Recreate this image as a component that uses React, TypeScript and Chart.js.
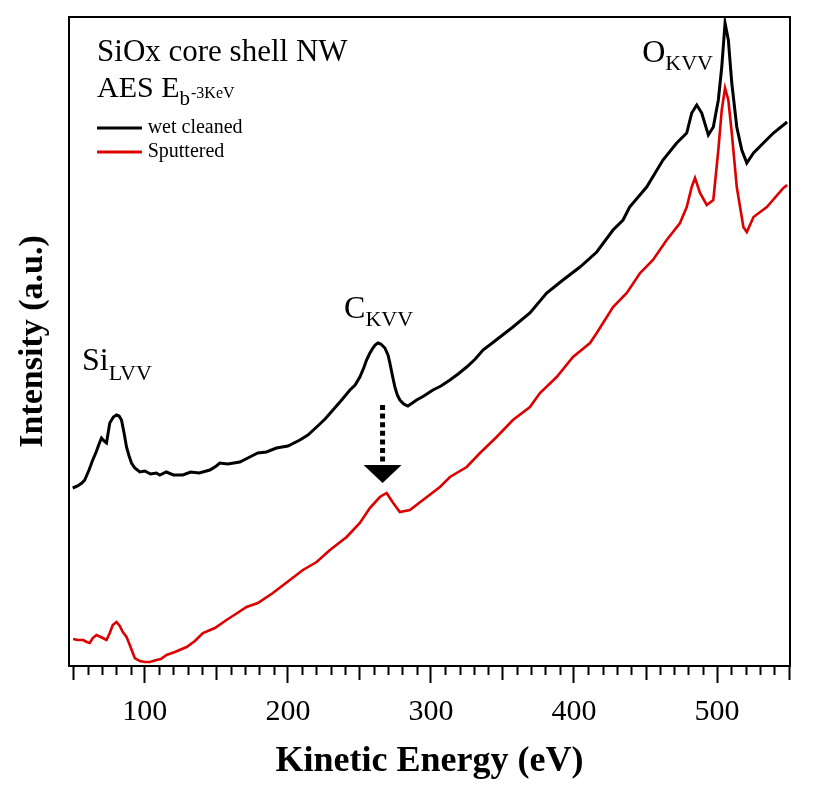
import { useEffect, useRef } from "react";
import { Chart, registerables } from "chart.js";

Chart.register(...registerables);

// ---- Data (kinetic energy in eV, intensity in arbitrary units) ----
const wetEnergy = [
  49.6, 53, 56, 58, 61, 63.6, 66, 68, 69.7, 71.5, 73.2, 75.5, 78, 80.2, 82, 83.7, 85.5, 87.2, 89, 90.7,
  93, 96.5, 100, 104, 108, 110.5, 115, 120, 126.6, 132, 138, 145.5, 150, 152.4, 158, 166.4, 172, 179, 185, 192,
  200, 208.4, 214, 220.1, 226, 231.5, 237, 243.4, 247, 250.3, 253, 255, 257, 259.4, 261, 262.9, 265, 267.8, 270, 271.3,
  273, 274.8, 276.5, 278.3, 281, 283.9, 287, 290, 295, 301.4, 307, 313.3, 319, 325, 331, 336.4, 342, 348.3, 357.3, 369.2,
  380.9, 392.3, 404.2, 415.9, 427.3, 434.3, 438.9, 450.8, 462.2, 471.8, 478.8, 482.3, 485.8, 489.3, 493.9, 497.4, 500.9, 503.3, 505.6, 507.9,
  510.3, 513.8, 517.3, 520.8, 525.5, 532.4, 539.4, 546.4, 549,
];
const wetIntensity = [
  178, 180, 183, 186, 196, 206, 214, 222, 228, 225, 223, 243, 249, 251, 250, 246, 233, 219, 210, 203,
  198, 194, 195, 192, 193, 191, 194, 191, 191, 194, 193, 196, 200, 203, 202, 204, 208, 213, 214, 218,
  220, 226, 231, 239, 247, 256, 265, 276, 281, 289, 298, 306, 312, 318, 321, 323, 322, 318, 311, 303,
  291, 279, 271, 266, 262, 260, 263, 266, 270, 276, 280, 286, 292, 299, 307, 316, 322, 329, 339, 353,
  373, 386, 399, 414, 436, 446, 459, 479, 506, 523, 533, 553, 561, 553, 531, 539, 566, 599, 643, 626,
  583, 539, 516, 503, 513, 523, 533, 541, 544,
];

const sputEnergy = [
  49.9, 53.1, 56.9, 59.4, 61.5, 63.6, 66.2, 69.2, 73.2, 75.5, 77.6, 80.2, 82.5, 84.6, 87.2, 89.5, 91.6, 93, 96.5, 100,
  103.5, 108.2, 111.2, 115.2, 121, 129.2, 135, 140.6, 149, 157.1, 163.6, 171.1, 179, 189.5, 201.4, 210.5, 220.1, 229.4, 241.1, 250.3,
  257.3, 264.3, 269, 273.6, 278.3, 285.3, 294.4, 306.3, 313.3, 325, 334.3, 345.9, 357.3, 369.2, 376.2, 387.9, 399.3, 411.2, 415.9, 427.3,
  436.9, 446.2, 455.2, 464.8, 474.1, 478.8, 482.3, 484.6, 488.1, 492.8, 497.4, 500.9, 503.3, 505.6, 507.9, 510.3, 513.8, 518.4, 520.8, 525.5,
  534.8, 546.4, 549,
];
const sputIntensity = [
  27, 26, 26, 24, 23, 28, 31, 29, 26, 33, 41, 44, 40, 34, 29, 21, 13, 8, 5, 4,
  4, 6, 7, 11, 14, 19, 25, 33, 38, 46, 52, 59, 63, 73, 86, 96, 104, 116, 129, 143,
  158, 169, 173, 163, 154, 156, 166, 179, 189, 199, 213, 229, 246, 259, 273, 289, 309, 323, 333, 359,
  373, 393, 406, 426, 443, 459, 479, 488, 473, 461, 466, 516, 556, 578, 566, 533, 479, 439, 434, 449,
  459, 478, 481,
];

const seriesLabels = ["wet cleaned", "Sputtered"];
const seriesColors = ["#000000", "#dd0000"];
const majorTickLabels = [100, 200, 300, 400, 500];
const tickFirst = 50;
const tickLast = 550;
const tickStep = 10;
const xMin = 47;
const xMax = 551;
const yMin = 0;
const yMax = 649;

const SERIF = "'Liberation Serif', 'Times New Roman', serif";

function drawSubText(
  ctx: CanvasRenderingContext2D,
  x: number,
  y: number,
  main: string,
  sub: string,
  mainSize: number,
  subSize: number,
  subDrop: number
) {
  ctx.font = `${mainSize}px ${SERIF}`;
  ctx.fillText(main, x, y);
  const w = ctx.measureText(main).width;
  ctx.font = `${subSize}px ${SERIF}`;
  ctx.fillText(sub, x + w, y + subDrop);
}

const decorPlugin = {
  id: "decor",
  afterDraw(chart: any) {
    const { ctx, chartArea: ca, scales } = chart;
    const xs = scales.x;
    const ys = scales.y;
    const X = (v: number) => xs.getPixelForValue(v);
    const Y = (v: number) => ys.getPixelForValue(v);
    ctx.save();

    // frame
    ctx.strokeStyle = "#000";
    ctx.lineWidth = 2;
    ctx.strokeRect(ca.left, ca.top, ca.right - ca.left, ca.bottom - ca.top);

    // minor / medium tick marks
    ctx.lineWidth = 2;
    for (let v = tickFirst; v <= tickLast; v += tickStep) {
      if (majorTickLabels.includes(v)) continue;
      const px = Math.round(X(v)) + 0.5;
      const len = v % 50 === 0 ? 14 : 9;
      ctx.beginPath();
      ctx.moveTo(px, ca.bottom);
      ctx.lineTo(px, ca.bottom + len);
      ctx.stroke();
    }

    ctx.fillStyle = "#000";
    ctx.textAlign = "left";
    ctx.textBaseline = "alphabetic";

    // title block
    ctx.font = `31px ${SERIF}`;
    ctx.fillText("SiOx core shell NW", X(66.6), Y(605));
    ctx.font = `30px ${SERIF}`;
    const l2x = X(66.6);
    const l2y = Y(569);
    ctx.fillText("AES E", l2x, l2y);
    let w = ctx.measureText("AES E").width;
    ctx.font = `21px ${SERIF}`;
    ctx.fillText("b", l2x + w, l2y + 8);
    w += ctx.measureText("b").width;
    ctx.font = `16px ${SERIF}`;
    ctx.fillText("-3KeV", l2x + w + 1, l2y + 1);

    // legend
    const legendRows = [538, 514];
    chart.data.datasets.forEach((ds: any, i: number) => {
      const ly = Y(legendRows[i]);
      ctx.strokeStyle = ds.borderColor;
      ctx.lineWidth = 3;
      ctx.beginPath();
      ctx.moveTo(X(66.6), ly);
      ctx.lineTo(X(98), ly);
      ctx.stroke();
      ctx.fillStyle = "#000";
      ctx.font = `20px ${SERIF}`;
      ctx.textBaseline = "middle";
      ctx.fillText(ds.label, X(102), ly);
      ctx.textBaseline = "alphabetic";
    });

    // peak labels
    ctx.fillStyle = "#000";
    drawSubText(ctx, X(56.1), Y(296), "Si", "LVV", 32, 22, 10);
    drawSubText(ctx, X(239.3), Y(348), "C", "KVV", 32, 22, 8);
    drawSubText(ctx, X(447.7), Y(604), "O", "KVV", 32, 22, 8);

    // dotted arrow
    const ax = X(266.2);
    ctx.strokeStyle = "#000";
    ctx.lineWidth = 5;
    ctx.setLineDash([5, 3.6]);
    ctx.beginPath();
    ctx.moveTo(ax, Y(261));
    ctx.lineTo(ax, Y(203));
    ctx.stroke();
    ctx.setLineDash([]);
    ctx.beginPath();
    ctx.moveTo(ax - 19, Y(201));
    ctx.lineTo(ax + 19, Y(201));
    ctx.lineTo(ax, Y(183));
    ctx.closePath();
    ctx.fill();

    ctx.restore();
  },
};

export default function App() {
  const canvasRef = useRef<HTMLCanvasElement | null>(null);

  useEffect(() => {
    document.body.style.margin = "0";
    const canvas = canvasRef.current;
    if (!canvas) return;
    const chart = new Chart(canvas, {
      type: "line",
      data: {
        datasets: [
          {
            label: seriesLabels[0],
            data: wetEnergy.map((e, i) => ({ x: e, y: wetIntensity[i] })),
            borderColor: seriesColors[0],
            borderWidth: 3,
            pointRadius: 0,
            tension: 0,
            fill: false,
          },
          {
            label: seriesLabels[1],
            data: sputEnergy.map((e, i) => ({ x: e, y: sputIntensity[i] })),
            borderColor: seriesColors[1],
            borderWidth: 2.6,
            pointRadius: 0,
            tension: 0,
            fill: false,
          },
        ],
      },
      options: {
        responsive: false,
        animation: false,
        events: [],
        layout: { padding: { top: 17, right: 23, bottom: 0, left: 0 } },
        plugins: {
          legend: { display: false },
          tooltip: { enabled: false },
        },
        scales: {
          x: {
            type: "linear",
            min: xMin,
            max: xMax,
            afterBuildTicks: (scale: any) => {
              const t = [];
              for (let v = tickFirst; v <= tickLast; v += tickStep) t.push({ value: v });
              scale.ticks = t;
            },
            afterFit: (scale: any) => {
              scale.height = 125;
            },
            border: { display: false },
            grid: {
              drawOnChartArea: false,
              drawTicks: true,
              tickLength: 17,
              tickWidth: 2,
              tickColor: (c: any) =>
                c.tick && majorTickLabels.includes(c.tick.value) ? "#000" : "rgba(0,0,0,0)",
            },
            ticks: {
              autoSkip: false,
              maxRotation: 0,
              padding: 11,
              color: "#000",
              font: { family: SERIF, size: 30 },
              callback: (v: any) => (majorTickLabels.includes(Number(v)) ? String(v) : ""),
            },
            title: {
              display: true,
              text: "Kinetic Energy (eV)",
              color: "#000",
              font: { family: SERIF, size: 36, weight: "bold", lineHeight: 1 },
              padding: { top: 0, bottom: 11 },
            },
          },
          y: {
            type: "linear",
            min: yMin,
            max: yMax,
            afterFit: (scale: any) => {
              scale.width = 69;
            },
            border: { display: false },
            grid: { display: false },
            ticks: { display: false },
            title: {
              display: true,
              text: "Intensity (a.u.)",
              color: "#000",
              font: { family: SERIF, size: 34, weight: "bold", lineHeight: 1 },
              padding: { top: 16, bottom: 0 },
            },
          },
        },
      },
      plugins: [decorPlugin],
    });
    return () => chart.destroy();
  }, []);

  return (
    <div style={{ width: 813, height: 791 }}>
      <canvas ref={canvasRef} width={813} height={791} style={{ display: "block" }} />
    </div>
  );
}
